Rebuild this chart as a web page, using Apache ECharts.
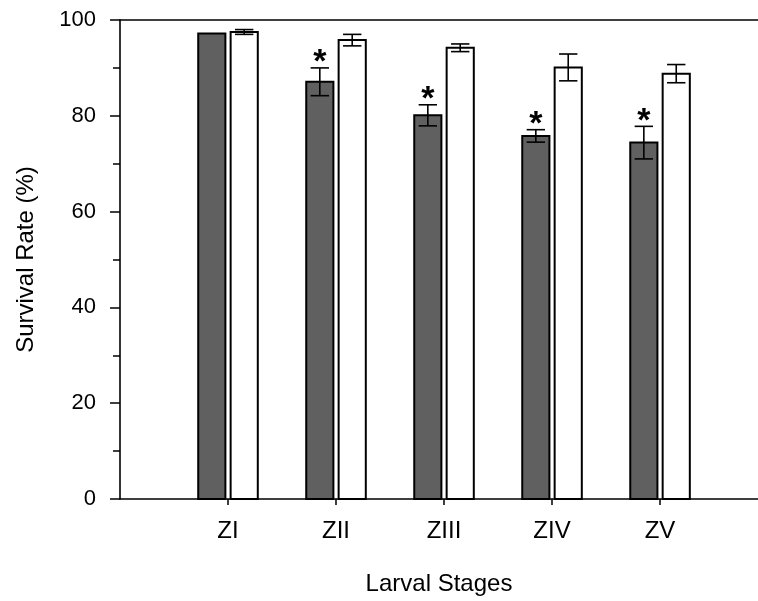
<!DOCTYPE html>
<html>
<head>
<meta charset="utf-8">
<script src="https://cdn.jsdelivr.net/npm/echarts@6/dist/echarts.min.js"></script>
<style>html,body{margin:0;padding:0;background:#fff;}#chart{width:758px;height:601px;}</style>
</head>
<body>
<div id="chart"></div>
<script>
const categories = ['ZI', 'ZII', 'ZIII', 'ZIV', 'ZV'];
const darkValues = [97.2, 87.1, 80.1, 75.8, 74.4];
const darkErrors = [0, 2.9, 2.2, 1.3, 3.4];
const whiteValues = [97.5, 95.8, 94.2, 90.1, 88.8];
const whiteErrors = [0.5, 1.2, 0.8, 2.8, 1.9];
const significant = [false, true, true, true, true];
const yMin = 0, yMax = 100, yStep = 20;

const FONT = "'Liberation Sans', Arial, sans-serif";

function makeData(values, errors) {
  return categories.map((c, i) => [i + 1, values[i], errors[i], significant[i] ? 1 : 0]);
}

function makeRender(side, fill, withStar) {
  return function (params, api) {
    const x = api.value(0), v = api.value(1), e = api.value(2), sig = api.value(3);
    const unit = api.size([1, 0])[0];
    const base = api.coord([x, 0]);
    const top = api.coord([x, v]);
    const barW = unit * 0.27;
    const gap = unit * 0.03;
    const left = side < 0 ? base[0] - gap / 2 - barW : base[0] + gap / 2;
    const cx = left + barW / 2;
    const children = [{
      type: 'rect',
      shape: { x: left + 1, y: top[1], width: barW - 2, height: base[1] - top[1] },
      style: { fill: fill, stroke: '#000', lineWidth: 2 }
    }];
    if (e > 0) {
      const hi = api.coord([x, v + e])[1];
      const lo = api.coord([x, v - e])[1];
      const cap = unit * 0.085;
      const ls = { stroke: '#000', lineWidth: 1.6 };
      children.push({ type: 'line', shape: { x1: cx, y1: hi, x2: cx, y2: lo }, style: ls, z2: 5 });
      children.push({ type: 'line', shape: { x1: cx - cap, y1: hi, x2: cx + cap, y2: hi }, style: ls, z2: 5 });
      children.push({ type: 'line', shape: { x1: cx - cap, y1: lo, x2: cx + cap, y2: lo }, style: ls, z2: 5 });
    }
    if (withStar && sig) {
      const hi = api.coord([x, v + e])[1];
      children.push({
        type: 'text',
        style: { text: '*', x: cx, y: hi - 5, align: 'center', verticalAlign: 'middle',
                 font: 'bold 34px ' + FONT, fill: '#000' },
        z2: 6
      });
    }
    return { type: 'group', children: children };
  };
}

const chart = echarts.init(document.getElementById('chart'), null, { renderer: 'canvas' });
chart.setOption({
  backgroundColor: '#fff',
  animation: false,
  grid: { left: 120, top: 20, right: 0, bottom: 101, containLabel: false },
  xAxis: [{
    type: 'value', min: 0, max: 5.907, position: 'bottom',
    name: 'Larval Stages', nameLocation: 'middle', nameGap: 73,
    nameTextStyle: { fontSize: 24, color: '#000', fontFamily: FONT },
    axisLine: { show: true, lineStyle: { color: '#000', width: 1.6 } },
    axisTick: { show: true, length: 6, customValues: [1, 2, 3, 4, 5], lineStyle: { color: '#000', width: 1.5 } },
    axisLabel: { show: true, customValues: [1, 2, 3, 4, 5], margin: 20, fontSize: 24, color: '#000', fontFamily: FONT,
                 formatter: v => categories[Math.round(v) - 1] || '' },
    splitLine: { show: false }
  }, {
    type: 'value', min: 0, max: 5.907, position: 'top',
    axisLine: { show: true, lineStyle: { color: '#000', width: 1.6 } },
    axisTick: { show: false }, axisLabel: { show: false }, splitLine: { show: false }
  }],
  yAxis: {
    type: 'value', min: yMin, max: yMax, interval: yStep,
    name: 'Survival Rate (%)', nameLocation: 'middle', nameGap: 82,
    nameTextStyle: { fontSize: 24, color: '#000', fontFamily: FONT },
    axisLine: { show: true, lineStyle: { color: '#000', width: 1.6 } },
    axisTick: { show: true, length: 10, lineStyle: { color: '#000', width: 1.5 } },
    minorTick: { show: true, splitNumber: 2, length: 7, lineStyle: { color: '#000', width: 1.5 } },
    axisLabel: { margin: 24, fontSize: 22, color: '#000', fontFamily: FONT },
    splitLine: { show: false }
  },
  series: [{
    type: 'custom', name: 'dark', xAxisIndex: 0,
    renderItem: makeRender(-1, '#606060', true),
    data: makeData(darkValues, darkErrors)
  }, {
    type: 'custom', name: 'white', xAxisIndex: 0,
    renderItem: makeRender(1, '#ffffff', false),
    data: makeData(whiteValues, whiteErrors)
  }]
});
</script>
</body>
</html>
